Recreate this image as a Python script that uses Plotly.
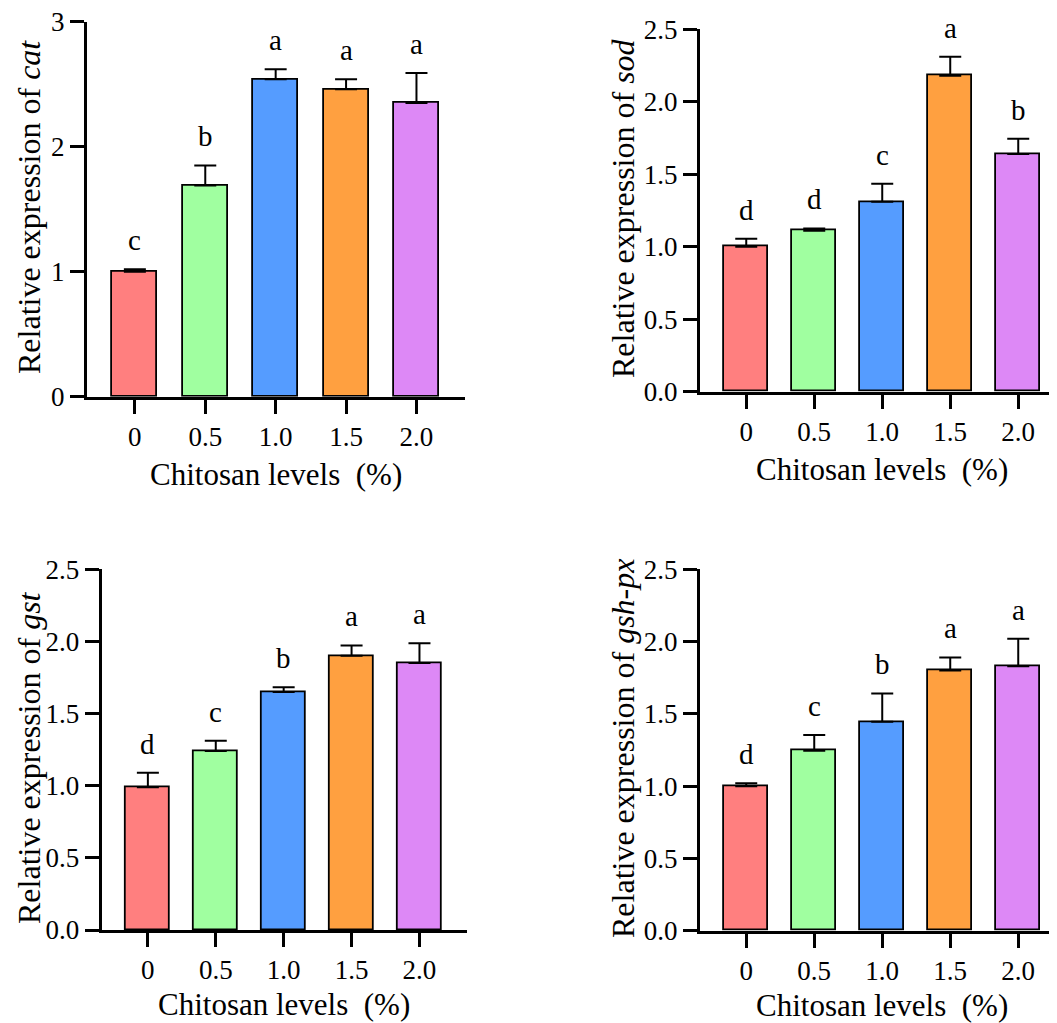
import plotly.graph_objects as go

levels = ["0", "0.5", "1.0", "1.5", "2.0"]
colors = ["#FF7F7F", "#A0FFA0", "#559CFF", "#FFA040", "#DD88F6"]

genes = ["cat", "sod", "gst", "gsh-px"]
cat_mean = [1.00, 1.69, 2.54, 2.46, 2.35]
cat_err = [0.02, 0.16, 0.08, 0.08, 0.24]
cat_sig = ["c", "b", "a", "a", "a"]
sod_mean = [1.00, 1.11, 1.31, 2.18, 1.64]
sod_err = [0.055, 0.016, 0.125, 0.13, 0.105]
sod_sig = ["d", "d", "c", "a", "b"]
gst_mean = [0.99, 1.24, 1.65, 1.90, 1.85]
gst_err = [0.10, 0.072, 0.032, 0.072, 0.137]
gst_sig = ["d", "c", "b", "a", "a"]
gsh_mean = [1.00, 1.245, 1.445, 1.80, 1.83]
gsh_err = [0.02, 0.108, 0.196, 0.09, 0.19]
gsh_sig = ["d", "c", "b", "a", "a"]

W, H = 1057, 1023
OFF = 8  # page body offset
FONT = "Liberation Serif"


def px_x(v):
    return (v - OFF) / W


def px_y(v):
    return 1 - (v - OFF) / H


panels = [
    dict(gene=genes[0], m=cat_mean, e=cat_err, s=cat_sig, ymax=3, dt=1, fmt="d",
         xd=(87, 465), yd=(21.7, 396.7), sp=70.4, yt=(29, 207), xts=-58),
    dict(gene=genes[1], m=sod_mean, e=sod_err, s=sod_sig, ymax=2.5, dt=0.5, fmt=".1f",
         xd=(700, 1057), yd=(29.3, 391.7), sp=68.0, yt=(623, 208), xts=-58),
    dict(gene=genes[2], m=gst_mean, e=gst_err, s=gst_sig, ymax=2.5, dt=0.5, fmt=".1f",
         xd=(101.7, 467), yd=(569.3, 930), sp=67.9, yt=(29, 758), xts=-55),
    dict(gene=genes[3], m=gsh_mean, e=gsh_err, s=gsh_sig, ymax=2.5, dt=0.5, fmt=".1f",
         xd=(700, 1057), yd=(569.3, 930.7), sp=68.0, yt=(623, 749), xts=-55),
]

fig = go.Figure()
xs = list(range(len(levels)))
annotations = []
layout = {}
for i, p in enumerate(panels):
    n = "" if i == 0 else str(i + 1)
    xa, ya = "x" + n, "y" + n
    fig.add_trace(go.Bar(
        x=xs, y=p["m"], width=0.64, xaxis=xa, yaxis=ya,
        marker=dict(color=colors, line=dict(color="black", width=1.8)),
        error_y=dict(type="data", array=p["e"], symmetric=False, arrayminus=[0] * 5,
                     color="black", thickness=2, width=11),
        showlegend=False,
    ))
    nt = int(round(p["ymax"] / p["dt"]))
    tv = [k * p["dt"] for k in range(nt + 1)]
    tt = [str(int(v)) if p["fmt"] == "d" else format(v, p["fmt"]) for v in tv]
    xmin = -0.68
    xmax = xmin + (p["xd"][1] - p["xd"][0]) / p["sp"]
    layout["xaxis" + n] = dict(
        domain=[px_x(p["xd"][0]), min(1, px_x(p["xd"][1]))], anchor=ya,
        range=[xmin, xmax], tickvals=xs, ticktext=levels,
        showline=True, linecolor="black", linewidth=3,
        ticks="outside", ticklen=14, tickwidth=3, tickcolor="black",
        showgrid=False, zeroline=False, fixedrange=True, automargin=False,
        ticklabeloverflow="allow",
        tickfont=dict(family=FONT, size=27, color="black"),
    )
    layout["yaxis" + n] = dict(
        domain=[px_y(p["yd"][1]), px_y(p["yd"][0])], anchor=xa,
        range=[0, p["ymax"]], tickvals=tv, ticktext=tt,
        showline=True, linecolor="black", linewidth=3,
        ticks="outside", ticklen=14, tickwidth=3, tickcolor="black",
        showgrid=False, zeroline=False, fixedrange=True, automargin=False,
        ticklabeloverflow="allow",
        tickfont=dict(family=FONT, size=27, color="black"),
    )
    for j in xs:
        annotations.append(dict(
            x=j, y=p["m"][j] + p["e"][j], xref=xa, yref=ya,
            text=p["s"][j], showarrow=False, yanchor="bottom", yshift=11,
            font=dict(family=FONT, size=29, color="black"),
        ))
    annotations.append(dict(
        x=2, y=0, xref=xa, yref=ya + " domain", yanchor="top", yshift=p["xts"],
        text="Chitosan levels\u00a0\u00a0(%)", showarrow=False,
        font=dict(family=FONT, size=31, color="black"),
    ))
    annotations.append(dict(
        x=px_x(p["yt"][0]), y=px_y(p["yt"][1]), xref="paper", yref="paper",
        xanchor="center", yanchor="middle", textangle=-90,
        text="Relative expression of <i>" + p["gene"] + "</i>", showarrow=False,
        font=dict(family=FONT, size=32, color="black"),
    ))

fig.update_layout(
    width=W, height=H, margin=dict(l=0, r=0, t=0, b=0, autoexpand=False),
    paper_bgcolor="white", plot_bgcolor="white",
    annotations=annotations, bargap=0, **layout,
)
fig.write_html("out.html")
